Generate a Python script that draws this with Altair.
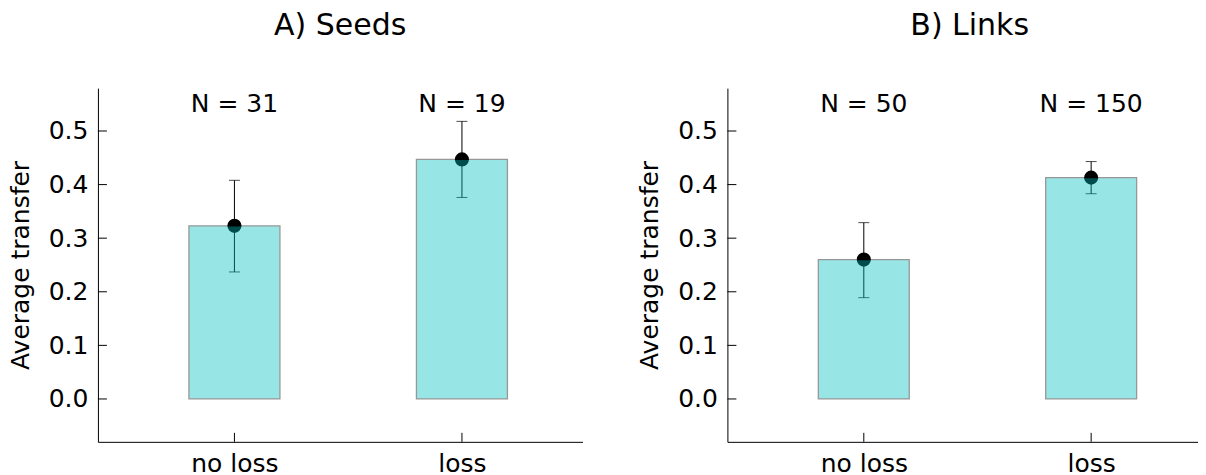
import altair as alt
import pandas as pd

# ---- data ----
categories = ["no loss", "loss"]
positions = [0, 1]

seeds_title = "A) Seeds"
seeds_mean = [0.323, 0.447]
seeds_lo = [0.237, 0.376]
seeds_hi = [0.408, 0.518]
seeds_n = [31, 19]

links_title = "B) Links"
links_mean = [0.260, 0.413]
links_lo = [0.189, 0.383]
links_hi = [0.329, 0.443]
links_n = [50, 150]

y_ticks = [0.0, 0.1, 0.2, 0.3, 0.4, 0.5]

FONT = "DejaVu Sans"
H = 354
FS = 25


def panel(title, mean, lo, hi, n, xmax, width, dx):
    df = pd.DataFrame({
        "cat": categories,
        "pos": positions,
        "mean": mean,
        "lo": lo,
        "hi": hi,
        "n": [f"N = {v}" for v in n],
    })
    ticks_df = pd.DataFrame({"v": y_ticks})
    xticks_df = pd.DataFrame({"pos": positions})

    xs = alt.Scale(domain=[-0.6, xmax], nice=False, zero=False)
    ys = alt.Scale(domain=[-0.08, 0.58], nice=False, zero=False)
    label_expr = "[" + ",".join(f"'{c}'" for c in categories) + "][datum.value]"

    x_axis = alt.Axis(values=positions, labelExpr=label_expr, title=None,
                      ticks=False, tickSize=0, grid=False, labelPadding=10,
                      labelFontSize=FS)
    y_axis = alt.Axis(values=y_ticks, format=".1f", title="Average transfer",
                      ticks=False, tickSize=0, grid=False, labelPadding=10,
                      labelFontSize=FS, titleFontSize=FS, titleFontWeight="normal",
                      titlePadding=15)

    def X(f):
        return alt.X(f, scale=xs, axis=x_axis)

    def Y(f):
        return alt.Y(f, scale=ys, axis=y_axis)

    base = alt.Chart(df)

    err = base.mark_rule(color="black", strokeWidth=1).encode(
        x=X("pos:Q"), y=Y("lo:Q"), y2="hi:Q",
    )
    cap_hi = base.mark_tick(orient="horizontal", size=11, thickness=1, color="black").encode(
        x=X("pos:Q"), y=Y("hi:Q"),
    )
    cap_lo = base.mark_tick(orient="horizontal", size=11, thickness=1, color="black").encode(
        x=X("pos:Q"), y=Y("lo:Q"),
    )
    pts = base.mark_circle(size=200, color="black", opacity=1).encode(
        x=X("pos:Q"), y=Y("mean:Q"),
    )
    bars = base.transform_calculate(
        x0="datum.pos - 0.2", x1="datum.pos + 0.2"
    ).mark_bar(fill="#00bfbf", stroke="black", strokeWidth=1.3, opacity=0.4).encode(
        x=X("x0:Q"), x2="x1:Q", y=Y("mean:Q"), y2=alt.datum(0),
    )
    txt = base.mark_text(fontSize=FS, baseline="alphabetic", align="center",
                         font=FONT, color="black").encode(
        x=X("pos:Q"), y=alt.datum(0.535), text="n:N",
    )
    yt = alt.Chart(ticks_df).mark_rule(color="black", strokeWidth=1).encode(
        y=Y("v:Q"), x=alt.value(0), x2=alt.value(9),
    )
    xt = alt.Chart(xticks_df).mark_rule(color="black", strokeWidth=1).encode(
        x=X("pos:Q"), y=alt.value(H), y2=alt.value(H - 9),
    )
    return alt.layer(err, cap_hi, cap_lo, pts, bars, txt, yt, xt).properties(
        width=width, height=H,
        title=alt.TitleParams(title, fontSize=30, fontWeight="normal", font=FONT,
                              color="black", offset=47, dx=dx),
    )


left = panel(seeds_title, seeds_mean, seeds_lo, seeds_hi, seeds_n, 1.53, 485, 0)
right = panel(links_title, links_mean, links_lo, links_hi, links_n, 1.47, 471, 7)

chart = alt.hconcat(left, right, spacing=55).properties(
    padding={"left": 0, "top": 3, "right": 0, "bottom": 0}
).configure(font=FONT).configure_view(stroke=None).configure_axis(
    domainColor="black", domainWidth=1, labelColor="black", titleColor="black",
    labelFont=FONT, titleFont=FONT,
)

chart.save("out.html", embed_options={"renderer": "svg", "actions": False})
